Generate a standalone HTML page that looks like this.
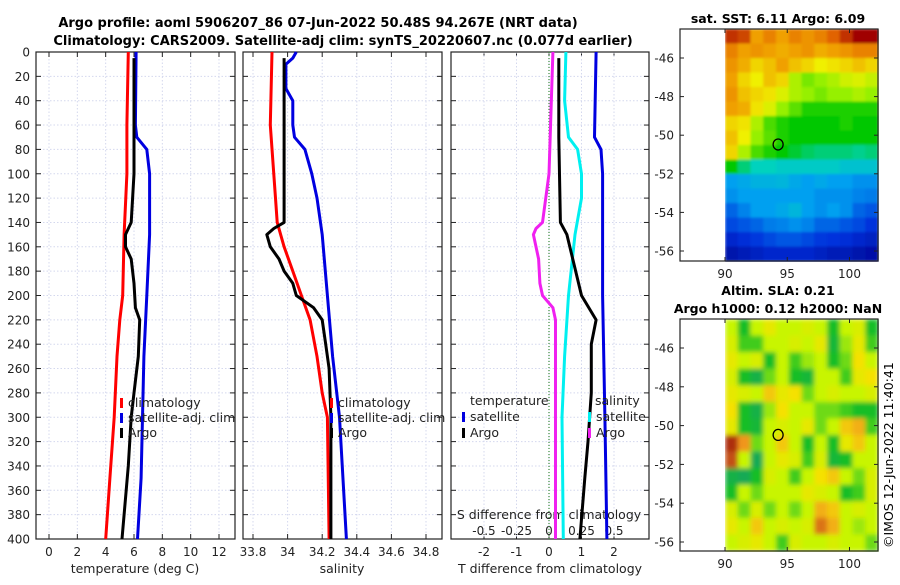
<!DOCTYPE html>
<html><head><meta charset="utf-8"><style>
body{margin:0;background:#fff;width:900px;height:580px;overflow:hidden}
svg{font-family:"DejaVu Sans","Liberation Sans",sans-serif}
</style></head><body>
<svg id="s" width="900" height="580" xmlns="http://www.w3.org/2000/svg">
<defs>
<filter id="bl" x="0" y="0" width="1" height="1"><feGaussianBlur stdDeviation="2.5" edgeMode="duplicate"/></filter>
<filter id="bl2" x="0" y="0" width="1" height="1"><feGaussianBlur stdDeviation="1.2" edgeMode="duplicate"/></filter>
</defs>
<rect width="900" height="580" fill="#fff"/>
<text x="318" y="27" font-size="13" font-weight="bold" text-anchor="middle">Argo profile: aoml 5906207_86 07-Jun-2022 50.48S 94.267E (NRT data)</text>
<text x="343" y="45" font-size="13" font-weight="bold" text-anchor="middle">Climatology: CARS2009. Satellite-adj clim: synTS_20220607.nc (0.077d earlier)</text>
<text x="778" y="23" font-size="12.5" font-weight="bold" text-anchor="middle">sat. SST: 6.11 Argo: 6.09</text>
<text x="778" y="295" font-size="12.5" font-weight="bold" text-anchor="middle">Altim. SLA: 0.21</text>
<text x="778" y="313" font-size="12.5" font-weight="bold" text-anchor="middle">Argo h1000: 0.12 h2000: NaN</text>
<text transform="translate(893,548) rotate(-90)" font-size="12.5">©IMOS 12-Jun-2022 11:40:41</text>
<g id="g"></g>
</svg>
<script>
// ---- data ----
const depthTicks=[0,20,40,60,80,100,120,140,160,180,200,220,240,260,280,300,320,340,360,380,400];
const tTicks=[0,2,4,6,8,10,12];
const sTicks=[33.8,34,34.2,34.4,34.6,34.8];
const sTickLabels=["33.8","34","34.2","34.4","34.6","34.8"];
const dTicks=[-2,-1,0,1,2];
const sdTicks=[-0.5,-0.25,0,0.25,0.5];
const sdTickLabels=["-0.5","-0.25","0","0.25","0.5"];
const tClimD=[0,60,100,150,200,220,250,300,350,400];
const tClimV=[5.6,5.5,5.5,5.3,5.2,5.0,4.8,4.6,4.3,4.0];
const tSatD=[0,60,70,80,100,150,200,250,300,350,400];
const tSatV=[6.15,6.1,6.2,6.9,7.1,7.1,6.9,6.7,6.6,6.5,6.25];
const tArgoD=[5,70,100,110,140,150,160,170,190,210,220,250,280,300,340,400];
const tArgoV=[6.0,6.0,6.0,5.95,5.8,5.4,5.4,5.8,6.0,6.1,6.4,6.3,6.0,5.8,5.6,5.15];
const sClimD=[0,60,120,140,160,180,200,220,250,280,300,400];
const sClimV=[33.91,33.9,33.93,33.94,33.98,34.03,34.08,34.13,34.17,34.2,34.23,34.24];
const sSatD=[0,5,10,30,40,60,70,80,100,120,150,200,250,300,400];
const sSatV=[34.05,34.03,33.99,33.99,34.03,34.03,34.04,34.1,34.14,34.17,34.2,34.23,34.26,34.3,34.34];
const sArgoD=[5,140,145,150,160,170,180,190,200,210,220,240,260,300,400];
const sArgoV=[33.98,33.98,33.92,33.88,33.9,33.95,33.98,34.03,34.05,34.15,34.2,34.22,34.24,34.25,34.25];
const dTSatD=[0,70,80,100,200,300,400];
const dTSatV=[1.45,1.4,1.6,1.65,1.65,1.72,1.78];
const dSSatD=[0,40,70,80,100,120,150,200,250,300,400];
const dSSatV=[0.13,0.12,0.15,0.22,0.25,0.25,0.2,0.15,0.12,0.1,0.11];
const dTArgoD=[5,70,140,150,200,220,240,280,320,350,400];
const dTArgoV=[0.3,0.3,0.35,0.55,1.0,1.45,1.3,1.3,1.2,1.1,0.95];
const dSArgoD=[0,100,140,145,150,170,190,200,210,220,300,400];
const dSArgoV=[0.03,0.0,-0.05,-0.1,-0.12,-0.08,-0.07,-0.05,0.03,0.05,0.05,0.05];
const sstGrid=[
[.95,.93,.8,.85,.8,.85,.82,.85,.9,.95,1,1],
[.85,.8,.82,.8,.78,.8,.82,.78,.8,.82,.85,.85],
[.82,.78,.72,.75,.8,.75,.72,.68,.7,.72,.75,.72],
[.8,.72,.68,.75,.72,.62,.58,.6,.62,.65,.66,.64],
[.82,.75,.72,.7,.66,.62,.6,.58,.6,.6,.62,.6],
[.8,.78,.7,.66,.6,.56,.52,.52,.52,.52,.52,.52],
[.72,.7,.62,.55,.52,.5,.5,.5,.5,.52,.5,.5],
[.75,.68,.6,.56,.52,.5,.5,.5,.5,.5,.5,.5],
[.72,.62,.55,.52,.5,.48,.46,.45,.45,.45,.44,.45],
[.5,.45,.42,.42,.4,.4,.4,.4,.4,.38,.38,.38],
[.3,.32,.34,.34,.35,.32,.3,.32,.3,.3,.28,.28],
[.28,.3,.3,.3,.3,.3,.3,.28,.28,.28,.26,.25],
[.22,.26,.3,.3,.32,.35,.3,.28,.3,.28,.22,.2],
[.18,.2,.22,.25,.26,.28,.26,.22,.22,.2,.18,.15],
[.12,.14,.16,.18,.2,.2,.18,.16,.15,.14,.12,.1],
[.06,.08,.1,.12,.12,.12,.12,.1,.08,.08,.06,.05]];
const slaGrid=[
[.5,.3,.5,.6,.5,.5,.55,.5,.3,.5,.55,.3],
[.55,.35,.35,.5,.5,.55,.5,.6,.25,.45,.6,.35],
[.6,.5,.55,.3,.5,.35,.45,.5,.3,.4,.65,.5],
[.55,.3,.2,.4,.5,.3,.25,.5,.5,.35,.6,.65],
[.6,.55,.5,.7,.6,.65,.4,.5,.55,.5,.5,.55],
[.65,.3,.2,.45,.65,.5,.5,.4,.4,.35,.3,.3],
[.6,.3,.25,.5,.55,.5,.6,.4,.5,.7,.75,.35],
[.95,.8,.4,.5,.7,.5,.3,.5,.3,.6,.7,.5],
[.9,.5,.15,.5,.6,.55,.35,.55,.25,.3,.5,.5],
[.2,.15,.3,.55,.5,.35,.5,.65,.7,.5,.4,.55],
[.3,.5,.4,.5,.5,.5,.6,.55,.5,.3,.35,.55],
[.55,.4,.55,.4,.5,.4,.5,.75,.7,.5,.55,.5],
[.6,.5,.7,.5,.55,.5,.55,.85,.75,.5,.45,.5],
[.5,.55,.6,.5,.35,.55,.5,.5,.55,.5,.5,.4]];
const lonTicks=[90,95,100];
const latTicks=[-46,-48,-50,-52,-54,-56];
const argoLon=94.267, argoLat=-50.48;

// ---- helpers ----
const NS="http://www.w3.org/2000/svg";
const G=document.getElementById('g');
function el(t,a,p){const e=document.createElementNS(NS,t);for(const k in a)e.setAttribute(k,a[k]);(p||G).appendChild(e);return e;}
const Y0=52,Y1=539;
const yD=d=>Y0+d*(Y1-Y0)/400;
function lin(d0,d1,r0,r1){return v=>r0+(v-d0)*(r1-r0)/(d1-d0);}
const panels=[{x0:36,x1:235,sx:lin(0,12,49,219)},{x0:243,x1:442,sx:lin(33.8,34.8,253,426)},{x0:451,x1:649,sx:lin(-2,2,484,614)}];
const sdx=lin(0,0.5,549,614);
const GRID='#d4d8ee';

panels.forEach((p,i)=>{
  const ax=el('g',{});
  
  
  const ticks=i==0?tTicks:i==1?sTicks:dTicks;
  ticks.forEach(t=>{const x=p.sx(t);const l=el('line',{x1:x,x2:x,y1:Y0,y2:Y1,stroke:GRID,'stroke-dasharray':'1.5,2','stroke-width':1},ax);
    
    el('line',{x1:x,x2:x,y1:Y1,y2:Y1-5,stroke:'#222'},ax);el('line',{x1:x,x2:x,y1:Y0,y2:Y0+5,stroke:'#222'},ax);});
  if(i==2){sdTicks.forEach(t=>{const x=sdx(t);el('line',{x1:x,x2:x,y1:Y0,y2:Y1,stroke:GRID,'stroke-dasharray':'1.5,2'},ax);});}
  depthTicks.forEach(d=>{const y=yD(d);const l=el('line',{x1:p.x0,x2:p.x1,y1:y,y2:y,stroke:GRID,'stroke-dasharray':'1.5,2'},ax);
    
    el('line',{x1:p.x0,x2:p.x0+5,y1:y,y2:y,stroke:'#222'},ax);el('line',{x1:p.x1,x2:p.x1-5,y1:y,y2:y,stroke:'#222'},ax);});
  const fr=el('rect',{x:p.x0,y:Y0,width:p.x1-p.x0,height:Y1-Y0,fill:'none',stroke:'#222','stroke-width':1.2},ax);
  
  ticks.forEach((t,k)=>{const tx=el('text',{x:p.sx(t),y:556,'font-size':12,'text-anchor':'middle',fill:'#222'},ax);
    tx.textContent=i==1?sTickLabels[k]:String(t);
    });
});
depthTicks.forEach(d=>{const t=el('text',{x:30,y:yD(d)+4.5,'font-size':12,'text-anchor':'end',fill:'#222'});t.textContent=d;
  });
[['temperature (deg C)',135],['salinity',342],['T difference from climatology',550]].forEach(([s,x])=>{
  const t=el('text',{x:x,y:573,'font-size':12.5,'text-anchor':'middle',fill:'#222'});t.textContent=s;
  });
{const t=el('text',{x:549,y:519,'font-size':12.5,'text-anchor':'middle',fill:'#222'});t.textContent='S difference from climatology';
 
 sdTicks.forEach((v,k)=>{const tt=el('text',{x:sdx(v),y:535,'font-size':12,'text-anchor':'middle',fill:'#222'});tt.textContent=sdTickLabels[k];
  });}
{const l=el('line',{x1:sdx(0),x2:sdx(0),y1:Y0,y2:Y1,stroke:'#3a8a3a','stroke-dasharray':'1,2','stroke-width':1.2});
 }

function series(D,V,fx,col,name){
  const pts=D.map((d,k)=>fx(V[k]).toFixed(1)+','+yD(d).toFixed(1)).join(' ');
  const l=el('polyline',{points:pts,fill:'none',stroke:col,'stroke-width':3,'stroke-linejoin':'round'});
  }
series(tClimD,tClimV,panels[0].sx,'#f00','temp-climatology-line');
series(tSatD,tSatV,panels[0].sx,'#0000e0','temp-satellite-line');
series(tArgoD,tArgoV,panels[0].sx,'#000','temp-argo-line');
series(sClimD,sClimV,panels[1].sx,'#f00','sal-climatology-line');
series(sSatD,sSatV,panels[1].sx,'#0000e0','sal-satellite-line');
series(sArgoD,sArgoV,panels[1].sx,'#000','sal-argo-line');
series(dTSatD,dTSatV,panels[2].sx,'#0000e0','tdiff-satellite-line');
series(dSSatD,dSSatV,sdx,'#00f0f0','sdiff-satellite-line');
series(dTArgoD,dTArgoV,panels[2].sx,'#000','tdiff-argo-line');
series(dSArgoD,dSArgoV,sdx,'#f020f0','sdiff-argo-line');

function legItem(x,y,col,txt){const r=el('rect',{x:x,y:y-9,width:3,height:10,fill:col});
  
  const t=el('text',{x:x+8,y:y,'font-size':12.5,fill:'#222'});t.textContent=txt;
  }
[[0,120],[1,330]].forEach(([i,x])=>{legItem(x,407,'#f00','climatology');legItem(x,422,'#0000e0','satellite-adj. clim');legItem(x,437,'#000','Argo');});
{const t=el('text',{x:470,y:405,'font-size':12.5,fill:'#222'});t.textContent='temperature';
 const t2=el('text',{x:595,y:405,'font-size':12.5,fill:'#222'});t2.textContent='salinity';}
legItem(462,421,'#0000e0','satellite');legItem(462,437,'#000','Argo');
legItem(588,421,'#00f0f0','satellite');legItem(588,437,'#f020f0','Argo');

// ---- maps ----
function interp(stops,v){v=Math.max(0,Math.min(1,v));for(let k=1;k<stops.length;k++){if(v<=stops[k][0]){const a=stops[k-1],b=stops[k],f=(v-a[0])/(b[0]-a[0]);
  return 'rgb('+[0,1,2].map(j=>Math.round(a[1][j]+f*(b[1][j]-a[1][j]))).join(',')+')';}}return 'rgb('+stops[stops.length-1][1].join(',')+')';}
const sstStops=[[0,[0,0,140]],[.15,[0,50,220]],[.3,[0,160,240]],[.42,[0,210,190]],[.5,[0,200,0]],[.6,[150,240,0]],[.68,[240,240,0]],[.8,[240,160,0]],[.9,[225,100,0]],[1,[160,0,0]]];
const slaStops=[[0,[20,150,130]],[.3,[20,190,40]],[.5,[200,245,0]],[.65,[245,225,0]],[.8,[240,150,30]],[1,[150,10,10]]];
function map(cfg){
  const sx=lin(90,100,725,849.5), sy=lin(-46,-56,cfg.yA,cfg.yB);
  const g=el('g',{});
  const cellsG=el('g',{filter:cfg.filter},g);
  const rows=cfg.grid.length,cols=cfg.grid[0].length;
  const yT=cfg.y0,yB=cfg.y1,xL=sx(90),xR=cfg.x1;
  const ch=(yB-yT)/rows,cw=(xR-xL)/cols;
  cfg.grid.forEach((row,r)=>row.forEach((v,c)=>{const re=el('rect',{x:(xL+c*cw).toFixed(2),y:(yT+r*ch).toFixed(2),width:(cw+0.6).toFixed(2),height:(ch+0.6).toFixed(2),fill:interp(cfg.stops,v)},cellsG);
    }));
  el('rect',{x:cfg.x0,y:yT,width:cfg.x1-cfg.x0,height:yB-yT,fill:'none',stroke:'#222','stroke-width':1.2},g);
  lonTicks.forEach(l=>{const x=sx(l);el('line',{x1:x,x2:x,y1:yB,y2:yB-4,stroke:'#222'},g);el('line',{x1:x,x2:x,y1:yT,y2:yT+4,stroke:'#222'},g);
    const t=el('text',{x:x,y:yB+17,'font-size':12,'text-anchor':'middle',fill:'#222'},g);t.textContent=l;
    });
  latTicks.forEach(l=>{const y=sy(l);el('line',{x1:cfg.x0,x2:cfg.x0+4,y1:y,y2:y,stroke:'#222'},g);el('line',{x1:cfg.x1,x2:cfg.x1-4,y1:y,y2:y,stroke:'#222'},g);
    const t=el('text',{x:cfg.x0-6,y:y+4.5,'font-size':12,'text-anchor':'end',fill:'#222'},g);t.textContent=l;
    });
  const m=el('ellipse',{cx:sx(argoLon),cy:sy(argoLat),rx:5,ry:5.5,fill:'none',stroke:'#000','stroke-width':1.3},g);
  
}
map({name:'sst-map',grid:sstGrid,stops:sstStops,x0:680,x1:878,y0:29,y1:261,yA:58,yB:251,filter:'url(#bl2)'});
map({name:'sla-map',grid:slaGrid,stops:slaStops,x0:680,x1:878,y0:319,y1:551,yA:348,yB:542,filter:'url(#bl)'});
</script>
</body></html>
